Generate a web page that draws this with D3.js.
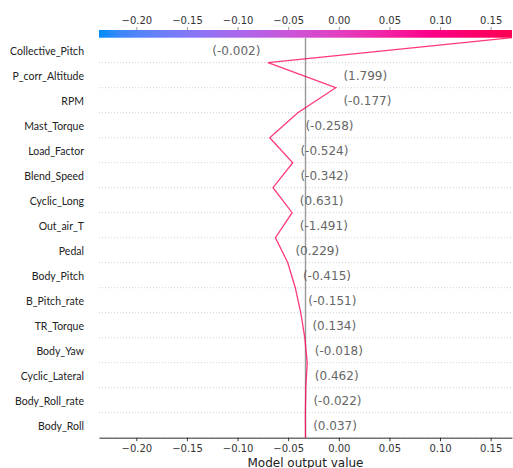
<!DOCTYPE html>
<html>
<head>
<meta charset="utf-8">
<script src="https://cdn.jsdelivr.net/npm/d3@7"></script>
<style>
  body { margin: 0; background: #fff; }
  svg { display: block; }
</style>
</head>
<body>
<svg id="chart" width="513" height="468"></svg>
<script>
// Features in display order, top to bottom
const features = [
  "Collective_Pitch", "P_corr_Altitude", "RPM", "Mast_Torque", "Load_Factor",
  "Blend_Speed", "Cyclic_Long", "Out_air_T", "Pedal", "Body_Pitch",
  "B_Pitch_rate", "TR_Torque", "Body_Yaw", "Cyclic_Lateral", "Body_Roll_rate", "Body_Roll"
];
// Observed feature values (shown in parentheses)
const featureValues = [
  -0.002, 1.799, -0.177, -0.258, -0.524,
  -0.342, 0.631, -1.491, 0.229, -0.415,
  -0.151, 0.134, -0.018, 0.462, -0.022, 0.037
];
// SHAP contribution of each feature, same order
const shapValues = [
  0.2410, -0.0669, 0.0375, 0.0277, -0.0227,
  0.0195, -0.0189, 0.0165, -0.0122, -0.0074,
  -0.0054, -0.0040, -0.0024, 0.0014, 0.0004, -0.0001
];
const baseValue = -0.0329;
const xTicks = [-0.20, -0.15, -0.10, -0.05, 0.00, 0.05, 0.10, 0.15];

const svg = d3.select("#chart");
const plot = { left: 99, right: 512, top: 37.7, bottom: 437.7 };
const n = features.length;

// Decision path: starts at the base value at the bottom and adds each contribution going up
const bottomUp = shapValues.slice().reverse();
const path = [baseValue, ...Array.from(d3.cumsum(bottomUp), v => baseValue + v)];

// x-limits symmetric around the base value
const maxDev = d3.max(path, v => Math.abs(v - baseValue));
const x = d3.scaleLinear().domain([baseValue - maxDev, baseValue + maxDev]).range([plot.left, plot.right]);
const y = d3.scaleLinear().domain([0, n]).range([plot.bottom, plot.top]);

const cmap = d3.interpolateHcl("#008bfb", "#ff0051");
const colorNorm = d3.scaleLinear().domain(x.domain()).range([0, 1]).clamp(true);

// Colour bar along the top
const defs = svg.append("defs");
const grad = defs.append("linearGradient").attr("id", "cbar").attr("x1", "0%").attr("x2", "100%");
d3.range(0, 1.0001, 0.05).forEach(t => {
  grad.append("stop").attr("offset", (t * 100) + "%").attr("stop-color", cmap(t));
});
const cbarTop = 30;
svg.append("rect")
  .attr("x", plot.left).attr("y", cbarTop)
  .attr("width", plot.right - plot.left).attr("height", plot.top - cbarTop)
  .attr("fill", "url(#cbar)");

const topAxis = d3.axisTop(x).tickValues(xTicks).tickFormat(d3.format(".2f"))
  .tickSizeInner(3).tickSizeOuter(0).tickPadding(3.5);
const gTop = svg.append("g").attr("transform", `translate(0,${cbarTop})`).call(topAxis);
gTop.select(".domain").remove();
gTop.selectAll(".tick line").attr("stroke", "#999");
gTop.selectAll(".tick text").attr("fill", "#333")
  .style("font-family", "DejaVu Sans").style("font-size", "10px");

// Dotted grid lines at each step of the path
svg.append("g").selectAll("line").data(d3.range(0, n)).join("line")
  .attr("x1", plot.left).attr("x2", plot.right)
  .attr("y1", d => y(d)).attr("y2", d => y(d))
  .attr("stroke", "#aaa").attr("stroke-width", 0.7)
  .attr("stroke-dasharray", "0.8,2.2");

// Base value line
svg.append("line")
  .attr("x1", x(baseValue)).attr("x2", x(baseValue))
  .attr("y1", y(n)).attr("y2", y(0))
  .attr("stroke", "#999").attr("stroke-width", 1.4);

// Bottom axis
const bottomAxis = d3.axisBottom(x).tickValues(xTicks).tickFormat(d3.format(".2f"))
  .tickSizeInner(3.5).tickSizeOuter(0).tickPadding(3.5);
const gBot = svg.append("g").attr("transform", `translate(0,${plot.bottom})`).call(bottomAxis);
gBot.select(".domain").attr("stroke", "#333");
gBot.selectAll(".tick line").attr("stroke", "#333");
gBot.selectAll(".tick text").attr("fill", "#333")
  .style("font-family", "DejaVu Sans").style("font-size", "10px");

svg.append("text")
  .attr("x", (plot.left + plot.right) / 2).attr("y", 466.5)
  .attr("text-anchor", "middle").attr("fill", "#222")
  .style("font-family", "DejaVu Sans").style("font-size", "12px")
  .text("Model output value");

// Feature names
svg.append("g").selectAll("text").data(features).join("text")
  .attr("x", 84)
  .attr("y", (d, i) => y(n - i - 0.5) + 4.8)
  .attr("text-anchor", "end").attr("fill", "#222")
  .style("font-family", "Lato").style("font-size", "10.5px")
  .text(d => d);

// Decision line, coloured by the final model output
const line = d3.line().x(d => x(d)).y((d, k) => y(k));
svg.append("path")
  .datum(path)
  .attr("d", line)
  .attr("fill", "none")
  .attr("stroke", d3.color(cmap(colorNorm(path[n]))).formatHex())
  .attr("stroke-opacity", 0.78)
  .attr("stroke-width", 1.3)
  .attr("stroke-linejoin", "miter");

// Feature value labels next to the line
const fmt = v => "(" + d3.format(".3f")(v).replace("−", "-").replace(/0+$/, "").replace(/\.$/, "") + ")";
const fontSize = 12;
const pad = 2 * 0.318 * fontSize;
const gVals = svg.append("g");
features.forEach((f, i) => {
  const k = n - 1 - i;
  const lo = path[k], hi = path[k + 1];
  const t = gVals.append("text")
    .attr("y", y(k + 0.5) + 4.3)
    .attr("fill", "#666")
    .style("font-family", "DejaVu Sans").style("font-size", fontSize + "px")
    .text(fmt(featureValues[i]));
  const w = t.node().getComputedTextLength();
  let tx = x(Math.max(lo, hi)) + pad;
  if (tx + w > plot.right) {
    t.attr("text-anchor", "end");
    tx = x(Math.min(lo, hi)) - pad;
  }
  t.attr("x", tx);
});
</script>
</body>
</html>
